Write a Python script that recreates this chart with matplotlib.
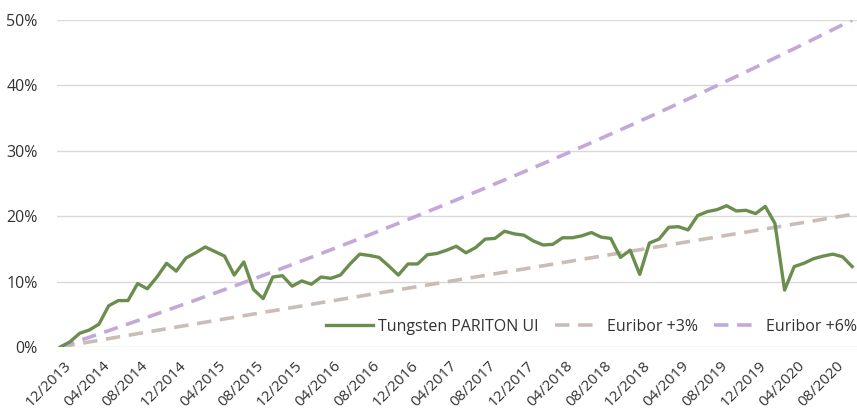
import matplotlib
matplotlib.use("Agg")
import matplotlib.pyplot as plt
import matplotlib.transforms as mtransforms
import numpy as np
import pandas as pd
from matplotlib.ticker import PercentFormatter

# --------------------------------------------------------
# Data (monthly, 12/2013 - 10/2020), values in %
# --------------------------------------------------------
months = pd.date_range("2013-12-01", periods=83, freq="MS").strftime("%m/%Y").tolist()

tungsten = [
    0.0, 0.8, 2.1, 2.6, 3.5, 6.3, 7.1, 7.1, 9.7, 8.9,
    10.7, 12.8, 11.6, 13.6, 14.4, 15.3, 14.6, 13.9, 11.0, 13.0,
    8.8, 7.4, 10.7, 10.9, 9.3, 10.1, 9.6, 10.7, 10.5, 11.0,
    12.7, 14.2, 14.0, 13.7, 12.4, 11.0, 12.7, 12.7, 14.1, 14.3,
    14.8, 15.4, 14.4, 15.2, 16.5, 16.6, 17.7, 17.3, 17.1, 16.2,
    15.6, 15.7, 16.7, 16.7, 17.0, 17.5, 16.8, 16.6, 13.7, 14.8,
    11.1, 15.9, 16.5, 18.3, 18.4, 17.9, 20.1, 20.7, 21.0, 21.6,
    20.8, 20.9, 20.4, 21.5, 18.9, 8.7, 12.3, 12.8, 13.5, 13.9,
    14.2, 13.8, 12.3,
]

euribor_3 = [
    0.00, 0.26, 0.51, 0.77, 1.02, 1.28, 1.53, 1.78, 2.04, 2.29,
    2.54, 2.79, 3.04, 3.29, 3.54, 3.79, 4.04, 4.29, 4.54, 4.79,
    5.04, 5.29, 5.54, 5.79, 6.03, 6.28, 6.53, 6.78, 7.02, 7.27,
    7.52, 7.76, 8.01, 8.26, 8.50, 8.75, 8.99, 9.24, 9.48, 9.73,
    9.97, 10.22, 10.46, 10.71, 10.95, 11.20, 11.44, 11.69, 11.93, 12.18,
    12.42, 12.67, 12.91, 13.16, 13.40, 13.65, 13.89, 14.14, 14.38, 14.63,
    14.87, 15.12, 15.36, 15.61, 15.85, 16.10, 16.34, 16.59, 16.83, 17.08,
    17.32, 17.57, 17.81, 18.06, 18.30, 18.55, 18.80, 19.04, 19.29, 19.54,
    19.78, 20.03, 20.28,
]

euribor_6 = [
    0.00, 0.50, 0.99, 1.49, 1.99, 2.50, 3.01, 3.52, 4.03, 4.55,
    5.07, 5.59, 6.12, 6.64, 7.17, 7.71, 8.24, 8.78, 9.32, 9.86,
    10.40, 10.95, 11.50, 12.05, 12.61, 13.17, 13.73, 14.29, 14.86, 15.43,
    16.00, 16.58, 17.15, 17.74, 18.32, 18.91, 19.49, 20.09, 20.68, 21.28,
    21.88, 22.49, 23.09, 23.70, 24.31, 24.93, 25.55, 26.17, 26.79, 27.42,
    28.05, 28.68, 29.32, 29.96, 30.60, 31.25, 31.91, 32.56, 33.21, 33.87,
    34.54, 35.20, 35.87, 36.55, 37.23, 37.91, 38.59, 39.28, 39.97, 40.67,
    41.37, 42.07, 42.77, 43.48, 44.19, 44.91, 45.62, 46.34, 47.07, 47.80,
    48.53, 49.26, 50.00,
]

labels = ["Tungsten PARITON UI", "Euribor +3%", "Euribor +6%"]

# --------------------------------------------------------
# Figure
# --------------------------------------------------------
plt.rcParams["font.family"] = ["Open Sans", "DejaVu Sans"]
text_color = "#333333"

fig = plt.figure(figsize=(8.57, 4.16), dpi=100)
ax = fig.add_axes([57 / 857, 1 - 347 / 416, 800 / 857, 327 / 416])

x = np.arange(len(months))
ax.plot(x, tungsten, color="#6B8E4E", lw=2.4, label=labels[0], zorder=3,
        solid_joinstyle="round")
ax.plot(x, euribor_3, color="#C9BEB7", lw=2.6, ls=(0, (4, 2.4)), label=labels[1], zorder=2)
ax.plot(x, euribor_6, color="#C3A9DA", lw=2.6, ls=(0, (4, 2.4)), label=labels[2], zorder=2)

ax.set_xlim(-0.35, 82.5)
ax.set_ylim(0, 50)
ax.set_yticks(np.arange(0, 51, 10))
ax.yaxis.set_major_formatter(PercentFormatter(decimals=0))
ax.grid(axis="y", color="#D9D9D9", lw=1)
ax.set_axisbelow(True)
for s in ax.spines.values():
    s.set_visible(False)

ticks = x[::4]
ax.set_xticks(ticks)
ax.set_xticklabels([months[i] for i in ticks], rotation=45, ha="right",
                   va="top", rotation_mode="anchor")
ax.tick_params(axis="both", length=0, labelsize=11.5, colors=text_color)
ax.tick_params(axis="x", pad=8, labelsize=11)
ax.tick_params(axis="y", pad=14)

# nudge x labels a little to the right
shift = mtransforms.ScaledTranslation(3 / 100, 0, fig.dpi_scale_trans)
for lbl in ax.get_xticklabels():
    lbl.set_transform(lbl.get_transform() + shift)

ax.legend(loc="lower right", bbox_to_anchor=(1.0 + 14 / 800, -2 / 327), ncol=3,
          frameon=False, fontsize=11.5, handlelength=2.9, handletextpad=0.35,
          columnspacing=1.0, labelcolor=text_color)

fig.savefig("out.png", dpi=100)
